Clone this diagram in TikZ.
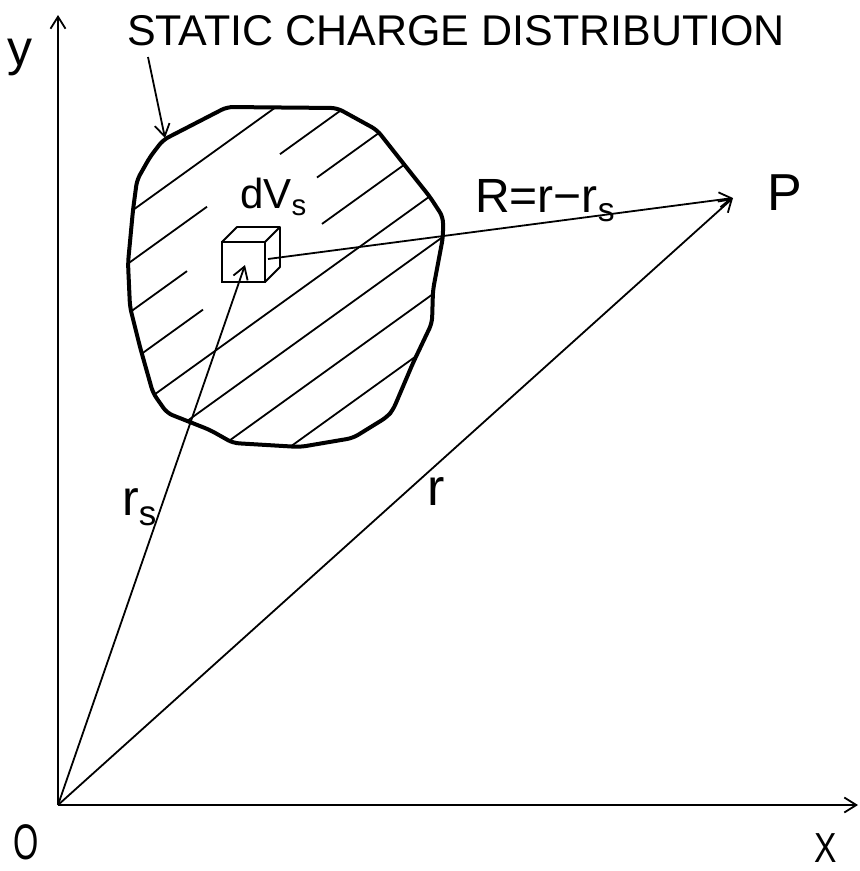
\documentclass[tikz,border=0pt]{standalone}
\usepackage{fontspec}
\setmainfont{Liberation Sans}
\usetikzlibrary{arrows.meta}

\begin{document}
\begin{tikzpicture}[x=1pt, y=-1pt, >={Straight Barb[length=12pt, width=15pt]}]
    \tikzstyle{vecline} = [line width=1.8pt]
    \tikzstyle{hatchline} = [line width=1.8pt]
    \tikzstyle{outline} = [line width=4pt, line join=round]
    \tikzstyle{lbl} = [inner sep=0pt, anchor=base west]
    \tikzstyle{letter} = [inner sep=0pt, anchor=center]
    \useasboundingbox (0,0) rectangle (860,871);

    \coordinate (O) at (58,805);
    \coordinate (ytip) at (58,15);
    \coordinate (xtip) at (858,805);
    \coordinate (P) at (733,198);
    \coordinate (cube) at (245,265);
    \coordinate (Rstart) at (268,259);
    \coordinate (tail) at (148,57);
    \coordinate (head) at (165,138);

    % charge region
    \path[rounded corners=6pt, save path=\blobp] (227,107) -- (337,108) -- (377,130) -- (403,163) -- (430,197)
        -- (443,217) -- (443,237) -- (433,290) -- (432,323) -- (413,363) -- (393,410) -- (387,417)
        -- (353,438) -- (300,447) -- (233,443) -- (210,430) -- (167,413) -- (153,393) -- (140,347)
        -- (130,307) -- (128,263) -- (133,210) -- (137,180) -- (150,157) -- (163,140) -- cycle;
    \begin{scope}
        \clip[use path=\blobp];
        \foreach \b/\ga/\gb in {210/470/470, 260/207/280, 310/187/317, 360/203/322,
                                410/470/470, 460/470/470, 510/470/470, 560/470/470}
            \draw[hatchline] (110,{\b+0.72*23}) -- (\ga,{\b-0.72*(\ga-133)})
                             (\gb,{\b-0.72*(\gb-133)}) -- (470,{\b-0.72*337});
    \end{scope}
    \draw[outline, use path=\blobp];

    % volume element
    \draw[vecline] (222,242) rectangle (265,282);
    \draw[vecline, line join=round] (222,242) -- (237,227) -- (280,227) -- (280,267) -- (265,282)
        (280,227) -- (265,242);

    % axes and vectors
    \draw[vecline, ->] (O) -- (ytip);
    \draw[vecline, ->] (O) -- (xtip);
    \draw[vecline, ->] (O) -- (cube);
    \draw[vecline, ->] (O) -- (P);
    \draw[vecline, ->] (Rstart) -- (P);
    \draw[vecline, ->] (tail) -- (head);

    \node[lbl, font=\fontsize{43}{43}\selectfont] (title) at (127,45) {STATIC CHARGE DISTRIBUTION};
    \node[lbl, font=\fontsize{42}{42}\selectfont] (dvs) at (240,208) {dV\textsubscript{s}};
    \node[lbl, font=\fontsize{48}{48}\selectfont] (diff) at (475,212) {R=r−r\textsubscript{s}};
    \node[lbl, font=\fontsize{50}{50}\selectfont] (rs) at (122,515) {r\textsubscript{s}};
    \node[lbl, font=\fontsize{52}{52}\selectfont] (r) at (427,505) {r};
    \node[letter, font=\fontsize{52}{52}\selectfont] (Plbl) at (785,193) {P};
    \node[letter, font=\fontsize{50}{50}\selectfont] (ylbl) at (20,57) {y};
    \node[letter, font=\fontsize{50}{50}\selectfont] (Olbl) at (26,842) {\scalebox{0.65}[1]{O}};
    \node[letter, font=\fontsize{42}{42}\selectfont] (xlbl) at (826,848) {\scalebox{0.8}[1]{X}};
\end{tikzpicture}
\end{document}
